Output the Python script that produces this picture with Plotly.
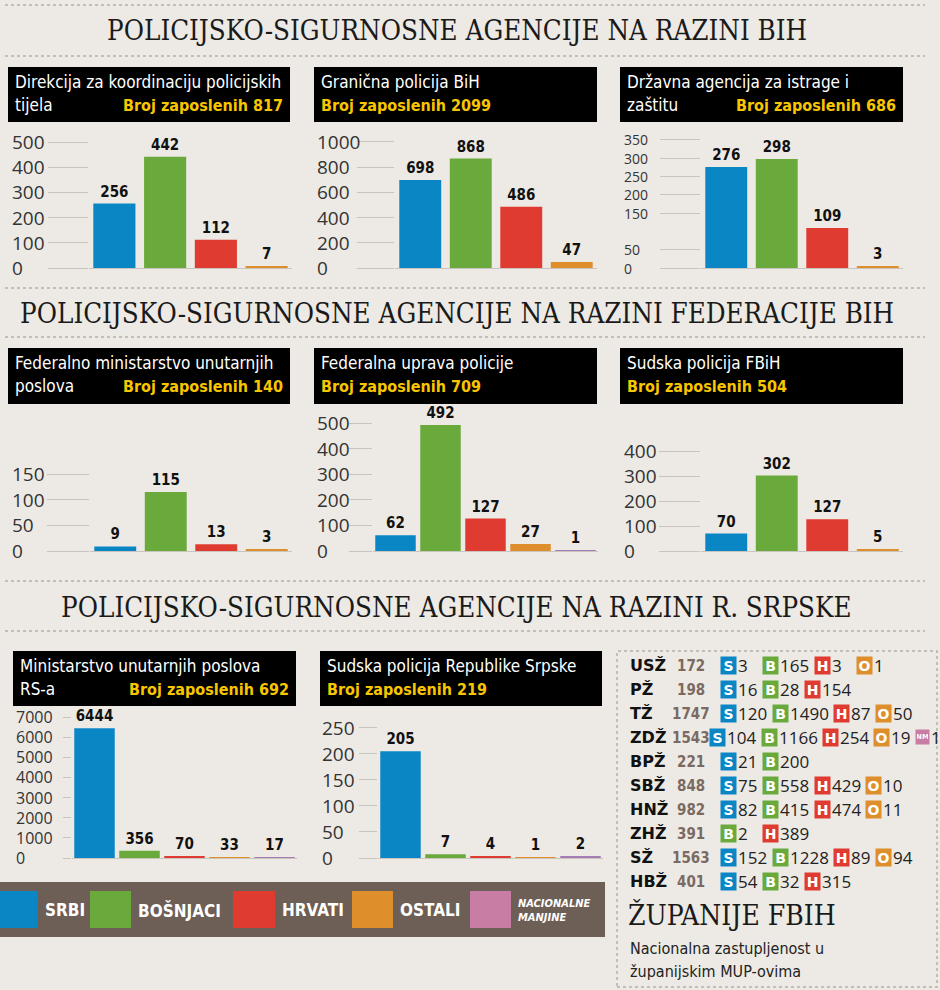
import plotly.graph_objects as go

W, H = 940, 990
BG = "#EDEAE5"

# ---------------- data ----------------
groups = ["SRBI", "BOŠNJACI", "HRVATI", "OSTALI", "NACIONALNE MANJINE"]
bar_colors = ["#0A86C4", "#6AAA3C", "#E03B30", "#DE8E2B", "#A47DB5"]
legend_colors = ["#0A86C4", "#6AAA3C", "#E03B30", "#DE8E2B", "#C87DA4"]

section_titles = [
    "POLICIJSKO-SIGURNOSNE AGENCIJE NA RAZINI BIH",
    "POLICIJSKO-SIGURNOSNE AGENCIJE NA RAZINI FEDERACIJE BIH",
    "POLICIJSKO-SIGURNOSNE AGENCIJE NA RAZINI R. SRPSKE",
]

agency_line1 = [
    "Direkcija za koordinaciju policijskih",
    "Granična policija BiH",
    "Državna agencija za istrage i",
    "Federalno ministarstvo unutarnjih",
    "Federalna uprava policije",
    "Sudska policija FBiH",
    "Ministarstvo unutarnjih poslova",
    "Sudska policija Republike Srpske",
]
agency_line2 = ["tijela", "", "zaštitu", "poslova", "", "", "RS-a", ""]
employees_total = [817, 2099, 686, 140, 709, 504, 692, 219]

dkpt = [256, 442, 112, 7]
granicna = [698, 868, 486, 47]
sipa = [276, 298, 109, 3]
fmup = [9, 115, 13, 3]
fup = [62, 492, 127, 27, 1]
sudska_fbih = [70, 302, 127, 5]
mup_rs = [6444, 356, 70, 33, 17]
sudska_rs = [205, 7, 4, 1, 2]

ticks_dkpt = [0, 100, 200, 300, 400, 500]
ticks_granicna = [0, 200, 400, 600, 800, 1000]
ticks_sipa = [0, 50, 150, 200, 250, 300, 350]
ticks_fmup = [0, 50, 100, 150]
ticks_fup = [0, 100, 200, 300, 400, 500]
ticks_sudska_fbih = [0, 100, 200, 300, 400]
ticks_mup_rs = [0, 1000, 2000, 3000, 4000, 5000, 6000, 7000]
ticks_sudska_rs = [0, 50, 100, 150, 200, 250]

zupanije = ["USŽ", "PŽ", "TŽ", "ZDŽ", "BPŽ", "SBŽ", "HNŽ", "ZHŽ", "SŽ", "HBŽ"]
zup_ukupno = [172, 198, 1747, 1543, 221, 848, 982, 391, 1563, 401]
zup_srbi = [3, 16, 120, 104, 21, 75, 82, None, 152, 54]
zup_bosnjaci = [165, 28, 1490, 1166, 200, 558, 415, 2, 1228, 32]
zup_hrvati = [3, 154, 87, 254, None, 429, 474, 389, 89, 315]
zup_ostali = [1, None, 50, 19, None, 10, 11, None, 94, None]
zup_nm = [None, None, None, 1, None, None, None, None, None, None]
badge_letters = ["S", "B", "H", "O", "NM"]

# ---------------- styling / layout params ----------------
COND = "DejaVu Sans Condensed, Liberation Sans Narrow, Arial Narrow, sans-serif"
SERIF = "DejaVu Serif Condensed, DejaVu Serif, serif"
TICKF = "Open Sans, Liberation Sans, sans-serif"
GRID = "#C9C4BE"

series = [dkpt, granicna, sipa, fmup, fup, sudska_fbih, mup_rs, sudska_rs]
tick_sets = [ticks_dkpt, ticks_granicna, ticks_sipa, ticks_fmup, ticks_fup,
             ticks_sudska_fbih, ticks_mup_rs, ticks_sudska_rs]
# pixel geometry: (x_left, x_right, y_top, y_base, ymax, label_x, ticklen, tick font size)
geom = [
    (89, 292, 130, 268, 548, 10, 40, 19),
    (395, 597, 130, 268, 1095, 315, 37, 19),
    (701, 903, 130, 268, 377, 622, 40, 14),
    (90, 292, 410, 551, 275, 10, 42, 19),
    (373, 598, 410, 551, 551, 315, 23, 19),
    (701, 903, 410, 551, 564, 622, 41, 19),
    (72, 297, 706, 858, 7547, 14, 8, 16),
    (378, 603, 706, 858, 292, 320, 18, 19),
]
boxes = [(8, 67, 290, 122), (314, 67, 597, 122), (620, 67, 903, 122),
         (8, 348, 290, 404), (314, 348, 597, 404), (620, 348, 903, 404),
         (13, 651, 296, 706), (320, 651, 602, 706)]


def px(x):
    return x / W


def py(y):
    return 1 - y / H


fig = go.Figure()
layout = {}
annotations = []
shapes = []

for k, (vals, tks, g) in enumerate(zip(series, tick_sets, geom), start=1):
    x0, x1, yt, yb, ymax, lx, tl, tfs = g
    n = len(vals)
    xa = "x" if k == 1 else f"x{k}"
    ya = "y" if k == 1 else f"y{k}"
    fig.add_trace(go.Bar(
        x=list(range(n)), y=vals, xaxis=xa, yaxis=ya,
        marker=dict(color=bar_colors[:n], line=dict(width=0)),
        width=0.83 if n == 4 else 0.9,
        text=[str(v) for v in vals], textposition="outside",
        textfont=dict(family=COND, size=15, color="#111111", weight="bold"),
        cliponaxis=False, showlegend=False, hoverinfo="skip",
    ))
    sfx = "" if k == 1 else str(k)
    layout["xaxis" + sfx] = dict(
        domain=[px(x0), px(x1)], range=[-0.5, n - 0.5], anchor=ya,
        showticklabels=False, showgrid=False, zeroline=False, showline=False,
        fixedrange=True)
    layout["yaxis" + sfx] = dict(
        domain=[py(yb), py(yt)], range=[0, ymax], anchor=xa,
        tickvals=tks, showticklabels=False, ticks="outside", ticklen=tl,
        tickcolor=GRID, tickwidth=1, showgrid=False, zeroline=True,
        zerolinecolor=GRID, zerolinewidth=1, showline=False, fixedrange=True)
    for t in tks:
        annotations.append(dict(
            x=px(lx), xref="paper", y=t, yref=ya, xanchor="left", yanchor="middle",
            text=str(t), showarrow=False,
            font=dict(family=TICKF, size=tfs, color="#333333")))

# header boxes
for (bx0, by0, bx1, by1), l1, l2, tot in zip(boxes, agency_line1, agency_line2, employees_total):
    shapes.append(dict(type="rect", xref="paper", yref="paper",
                       x0=px(bx0), x1=px(bx1), y0=py(by1), y1=py(by0),
                       fillcolor="#000000", line=dict(width=0), layer="below"))
    annotations.append(dict(x=px(bx0 + 5), y=py(by0 + 15), xref="paper", yref="paper",
                            xanchor="left", yanchor="middle", text=l1, showarrow=False,
                            font=dict(family=COND, size=17, color="white")))
    ytxt = f"<b>Broj zaposlenih {tot}</b>"
    if l2:
        annotations.append(dict(x=px(bx0 + 5), y=py(by0 + 38), xref="paper", yref="paper",
                                xanchor="left", yanchor="middle", text=l2, showarrow=False,
                                font=dict(family=COND, size=17, color="white")))
        annotations.append(dict(x=px(bx1 - 5), y=py(by0 + 38), xref="paper", yref="paper",
                                xanchor="right", yanchor="middle", text=ytxt, showarrow=False,
                                font=dict(family=COND, size=16, color="#F7C600")))
    else:
        annotations.append(dict(x=px(bx0 + 5), y=py(by0 + 38), xref="paper", yref="paper",
                                xanchor="left", yanchor="middle", text=ytxt, showarrow=False,
                                font=dict(family=COND, size=16, color="#F7C600")))

# section titles
for title, ty in zip(section_titles, [30, 313, 607]):
    annotations.append(dict(x=0.486, y=py(ty), xref="paper", yref="paper",
                            xanchor="center", yanchor="middle", text=title, showarrow=False,
                            font=dict(family=SERIF, size=27.5, color="#1a1a1a")))

# dotted separators
for ly in [5, 56, 288, 337, 581, 631]:
    shapes.append(dict(type="line", xref="paper", yref="paper", x0=px(5), x1=px(925),
                       y0=py(ly), y1=py(ly), line=dict(color="#B5AFA8", width=1.5, dash="dot")))

# legend bar
shapes.append(dict(type="rect", xref="paper", yref="paper", x0=px(0), x1=px(605),
                   y0=py(937), y1=py(882), fillcolor="#6D5E56", line=dict(width=0)))
leg_sq = [(0, 38), (90, 131), (233, 275), (352, 393), (470, 511)]
for (sx0, sx1), col, name in zip(leg_sq, legend_colors, groups):
    shapes.append(dict(type="rect", xref="paper", yref="paper", x0=px(sx0), x1=px(sx1),
                       y0=py(928), y1=py(891), fillcolor=col, line=dict(width=0)))
    if " " in name:
        txt = "<b><i>" + name.replace(" ", "<br>") + "</i></b>"
        fsz = 11
    else:
        txt = "<b>" + name + "</b>"
        fsz = 17
    annotations.append(dict(x=px(sx1 + 5), y=py(910), xref="paper", yref="paper",
                            xanchor="left", yanchor="middle", text=txt, showarrow=False,
                            align="left", font=dict(family=COND, size=fsz, color="white")))

# cantons table
shapes.append(dict(type="rect", xref="paper", yref="paper", x0=px(617), x1=px(937),
                   y0=py(987), y1=py(651), line=dict(color="#B5AFA8", width=1.5, dash="dot")))
cols = [zup_srbi, zup_bosnjaci, zup_hrvati, zup_ostali, zup_nm]
for i, (zn, tot) in enumerate(zip(zupanije, zup_ukupno)):
    ry = 665 + i * 24
    annotations.append(dict(x=px(628), y=py(ry), xref="paper", yref="paper",
                            xanchor="left", yanchor="middle", text=f"<b>{zn}</b>",
                            showarrow=False, font=dict(family="DejaVu Sans", size=16, color="#111")))
    annotations.append(dict(x=px(691), y=py(ry + 1), xref="paper", yref="paper",
                            xanchor="center", yanchor="middle", text=f"<b>{tot}</b>",
                            showarrow=False, font=dict(family=COND, size=15, color="#7B6A62")))
    entries = [(j, c[i]) for j, c in enumerate(cols) if c[i] is not None]
    cx = 709 if len(entries) == 5 else 720
    for j, v in entries:
        is_nm = badge_letters[j] == "NM"
        bw = 11 if is_nm else 13
        annotations.append(dict(x=px(cx), y=py(ry), xref="paper", yref="paper",
                                xanchor="left", yanchor="middle",
                                text=f"<b>{badge_letters[j]}</b>", showarrow=False,
                                bgcolor=legend_colors[j], width=bw, height=15 if not is_nm else 12,
                                borderpad=1,
                                font=dict(family="DejaVu Sans", size=7 if is_nm else 14, color="white")))
        annotations.append(dict(x=px(cx + bw + 3), y=py(ry), xref="paper", yref="paper",
                                xanchor="left", yanchor="middle", text=str(v), showarrow=False,
                                font=dict(family=TICKF, size=17, color="#222")))
        cx = cx + bw + 3 + max(len(str(v)), 2) * 9.5 + 7

annotations.append(dict(x=px(626), y=py(915), xref="paper", yref="paper", xanchor="left",
                        yanchor="middle", text="ŽUPANIJE FBIH", showarrow=False,
                        font=dict(family=SERIF, size=28, color="#1a1a1a")))
annotations.append(dict(x=px(628), y=py(948), xref="paper", yref="paper", xanchor="left",
                        yanchor="middle", text="Nacionalna zastupljenost u", showarrow=False,
                        font=dict(family=COND, size=16, color="#222")))
annotations.append(dict(x=px(628), y=py(971), xref="paper", yref="paper", xanchor="left",
                        yanchor="middle", text="županijskim MUP-ovima", showarrow=False,
                        font=dict(family=COND, size=16, color="#222")))

fig.update_layout(
    width=W, height=H, margin=dict(l=0, r=0, t=0, b=0),
    paper_bgcolor=BG, plot_bgcolor="rgba(0,0,0,0)",
    annotations=annotations, shapes=shapes, showlegend=False,
    **layout,
)
fig.write_html("out.html", config={"displayModeBar": False},
               post_script="document.body.style.margin='0';document.body.style.background='" + BG + "';")
